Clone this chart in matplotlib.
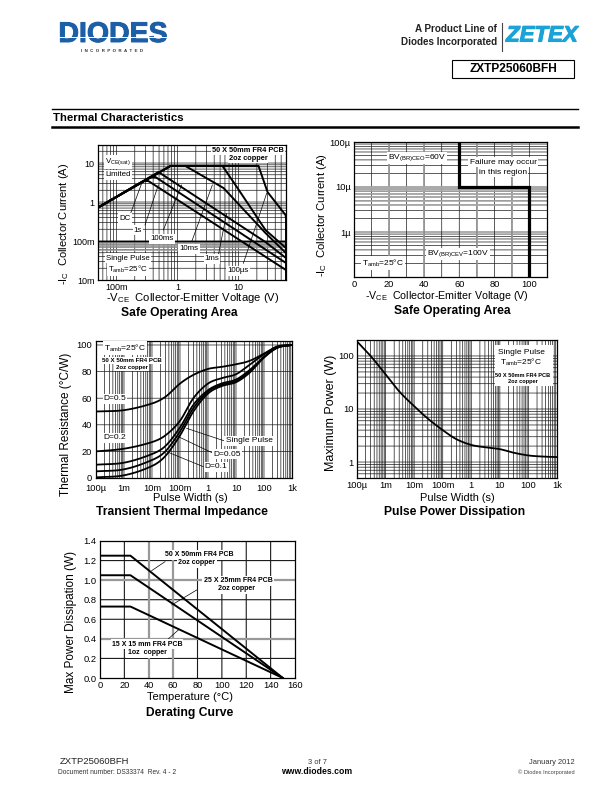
import numpy as np
import matplotlib
matplotlib.use("Agg")
import matplotlib.pyplot as plt
import matplotlib.patheffects as pe
from matplotlib.lines import Line2D
from matplotlib.patches import Rectangle

plt.rcParams['font.family'] = ['Liberation Sans', 'DejaVu Sans']
plt.rcParams['mathtext.fontset'] = 'custom'
plt.rcParams['mathtext.rm'] = 'Liberation Sans'
plt.rcParams['mathtext.default'] = 'regular'

W, H = 612, 792

# ---------- data ----------
soa_dc_v = [0.05, 0.277, 0.335, 60]
soa_dc_i = [0.72, 3.45, 3.45, 0.018]
soa_1s_v = [0.05, 0.361, 0.436, 60]
soa_1s_i = [0.72, 4.38, 4.38, 0.0273]
soa_100ms_v = [0.05, 0.489, 27.7, 60]
soa_100ms_i = [0.72, 5.88, 0.094, 0.0366]
soa_10ms_v = [0.05, 0.768, 1.35, 5.68, 27.7, 60]
soa_10ms_i = [0.72, 8.4, 8.4, 2.29, 0.16, 0.049]
soa_1ms_v = [0.05, 0.768, 5.47, 9.63, 27.7, 60]
soa_1ms_i = [0.72, 8.4, 8.4, 2.29, 0.191, 0.066]
soa_100us_v = [0.05, 0.768, 21.3, 29.9, 59, 60, 60]
soa_100us_i = [0.72, 8.4, 8.4, 1.8, 0.464, 0.389, 0.01]

bv_v = [60, 60, 100, 100]
bv_i = [1e-4, 1e-5, 1e-5, 1e-7]

tp = [1e-4, 1e-3, 1e-2, 3e-2, 1e-1, 3e-1, 1, 3, 10, 30, 100, 300, 1000]
r_d05 = [50, 51, 56, 61, 71, 77.5, 82, 83.5, 85.5, 88, 93.5, 99, 100]
r_d02 = [20, 22, 27, 32, 43, 60, 71, 75, 78, 85, 93, 98.5, 100]
r_d01 = [10, 11.5, 18, 24, 38, 55, 66, 71, 74, 81, 91, 98, 100]
r_d005 = [5, 6.5, 13.5, 20, 35, 52.5, 65, 70, 73, 80, 91, 98, 100]
r_single = [0.5, 2, 9, 16.5, 32, 50, 63.5, 69, 72, 79, 90.5, 98, 100]

pw_t = [1e-4, 3e-4, 1e-3, 3e-3, 1e-2, 3e-2, 1e-1, 3e-1, 1, 3, 10, 30, 100, 300, 1000]
pw_p = [188, 100, 45, 21.5, 11.3, 6.6, 4.0, 2.7, 2.1, 1.9, 1.75, 1.5, 1.33, 1.27, 1.24]

temp = [0, 25, 150]
pd_50 = [1.25, 1.25, 0]
pd_25 = [1.05, 1.05, 0]
pd_15 = [0.73, 0.73, 0]

fig = plt.figure(figsize=(W / 100, H / 100), dpi=100)


def T(x, y, s, size=6, ha='center', va='center', weight='normal', color='k', box=False, **kw):
    bb = dict(fc='white', ec='none', pad=0.8) if box else None
    return fig.text(x / W, 1 - y / H, s, fontsize=size, ha=ha, va=va, fontweight=weight,
                    color=color, bbox=bb, zorder=10, **kw)


def L(x, y, lw=0.6, color='k', z=8):
    fig.add_artist(Line2D(np.array(x) / W, 1 - np.array(y) / H, lw=lw, color=color, zorder=z))


def mkax(l, r, t, b, tick=6.7):
    ax = fig.add_axes([l / W, 1 - b / H, (r - l) / W, (b - t) / H])
    ax.tick_params(which='both', length=0, labelsize=tick, pad=2.5)
    for s in ax.spines.values():
        s.set_linewidth(0.9)
    ax.set_axisbelow(True)
    return ax


def grid(ax, xs, ys, lw=0.5, color='#1a1a1a'):
    for v in xs:
        ax.axvline(v, lw=lw, color=color, snap=False, zorder=1)
    for v in ys:
        ax.axhline(v, lw=lw, color=color, snap=False, zorder=1)


def logs(a, b):
    out = []
    for e in range(a, b):
        out += [m * 10.0 ** e for m in range(1, 10)]
    return out


def smooth(x, y, logy=False, n=12):
    lx = np.log10(x)
    v = np.log10(y) if logy else np.asarray(y, float)
    px = np.r_[2 * lx[0] - lx[1], lx, 2 * lx[-1] - lx[-2]]
    pv = np.r_[2 * v[0] - v[1], v, 2 * v[-1] - v[-2]]
    xs, vs = [], []
    for i in range(1, len(px) - 2):
        h = px[i + 1] - px[i]
        m0 = (pv[i + 1] - pv[i - 1]) / (px[i + 1] - px[i - 1])
        m1 = (pv[i + 2] - pv[i]) / (px[i + 2] - px[i])
        t = np.linspace(0, 1, n, endpoint=False)
        xs.append(px[i] + h * t)
        vs.append((2 * t**3 - 3 * t**2 + 1) * pv[i] + (t**3 - 2 * t**2 + t) * h * m0
                  + (-2 * t**3 + 3 * t**2) * pv[i + 1] + (t**3 - t**2) * h * m1)
    xs = 10 ** np.r_[np.concatenate(xs), lx[-1]]
    vs = np.r_[np.concatenate(vs), v[-1]]
    return xs, (10 ** vs if logy else vs)


LBL = 8.0
TTL = 8.7
SM = 6.0
TINY = 4.4

# ---------- page furniture ----------
t = T(113, 35, 'DIODES', size=20.5, weight='bold', color='#1c5fa6')
t.set_path_effects([pe.withStroke(linewidth=0.7, foreground='#1c5fa6')])
L([57, 168], [36.5, 36.5], lw=0.7, color='white', z=12)
T(112, 51, 'I  N  C  O  R  P  O  R  A  T  E  D', size=3.2, weight='bold', color='#333333')
T(497, 29, 'A Product Line of', size=7.1, ha='right', weight='bold', color='#222222')
T(497, 42, 'Diodes Incorporated', size=7.1, ha='right', weight='bold', color='#222222')
L([502, 502], [23, 51], lw=0.8, color='#444444')
t = T(542, 36, 'ZETEX', size=16, weight='bold', style='italic', color='#1ba2d6')
t.set_path_effects([pe.withStroke(linewidth=0.8, foreground='#1ba2d6')])
fig.add_artist(Rectangle((452 / W, 1 - 78 / H), 122 / W, 18 / H, fill=False, ec='k', lw=0.8,
                         transform=fig.transFigure))
T(513, 69.5, 'ZXTP25060BFH', size=8.6, weight='bold')
L([52, 578], [109, 109], lw=1.0)
L([52, 578], [127, 127], lw=1.8)
T(53, 118, 'Thermal Characteristics', size=8.2, weight='bold', ha='left')

T(60, 762, 'ZXTP25060BFH', size=6.8, ha='left', color='#222222')
T(58, 772.5, 'Document number: DS33374  Rev. 4 - 2', size=4.8, ha='left', color='#333333')
T(317, 762, '3 of 7', size=5.4, color='#333333')
T(317, 772, 'www.diodes.com', size=6.2, weight='bold')
T(575, 762, 'January 2012', size=5.4, ha='right', color='#333333')
T(575, 772, '© Diodes Incorporated', size=4.1, ha='right', color='#444444')

# ---------- SOA 1 ----------
ax = mkax(98, 286, 145, 280, tick=6.5)
ax.set_xscale('log'); ax.set_yscale('log')
ax.set_xlim(0.05, 60); ax.set_ylim(0.01, 29)
grid(ax, [v for v in logs(-2, 2) if 0.05 < v < 60], [v for v in logs(-2, 2) if 0.01 < v < 29])
for v in [0.06, 0.07, 0.08, 0.09]:
    ax.axhline(v, lw=1.1, color='#999999', zorder=1.1)
ax.axhline(0.1, lw=1.0, color='k', zorder=1.2)
for xs, ys in [(soa_dc_v, soa_dc_i), (soa_1s_v, soa_1s_i), (soa_100ms_v, soa_100ms_i),
               (soa_10ms_v, soa_10ms_i), (soa_1ms_v, soa_1ms_i), (soa_100us_v, soa_100us_i)]:
    ax.plot(xs, ys, color='k', lw=1.4, solid_joinstyle='miter', zorder=3, clip_on=True)
ax.set_xticks([0.1, 1, 10], ['100m', '1', '10'])
ax.set_yticks([0.01, 0.1, 1, 10], ['10m', '100m', '1', '10'])
ax.minorticks_off()
for a, b in [((240, 255), (275, 160)), ((285, 285), (325, 165)), ((340, 300), (395, 165)),
             ((425, 335), (487, 165)), ((505, 375), (530, 250)), ((580, 400), (650, 190))]:
    L([50 + a[0] / 3, 50 + b[0] / 3], [130 + a[1] / 3, 130 + b[1] / 3], lw=0.5, z=4)
T(248, 150.5, '50 X 50mm FR4 PCB', size=5.3, weight='bold', box=True)
T(248, 158, '2oz copper', size=5.3, weight='bold', box=True)
T(118, 162, r'V$_{CE(sat)}$', size=5.7, box=True)
T(118, 175, 'Limited', size=5.7, box=True)
T(125, 218, 'DC', size=5.7, box=True)
T(138, 230, '1s', size=5.7, box=True)
T(162, 239, '100ms', size=5.7, box=True)
T(189, 249, '10ms', size=5.7, box=True)
T(212, 259, '1ms', size=5.7, box=True)
T(238, 271, '100µs', size=5.7, box=True)
T(128, 258, 'Single Pulse', size=5.7, box=True)
T(128, 269, r'T$_{amb}$=25°C', size=5.7, box=True)
T(64, 224, r'-I$_{C}$  Collector Current (A)', size=LBL, rotation=90)
T(193, 298, r'-V$_{CE}$  Collector-Emitter Voltage (V)', size=8.1)
T(179, 313, 'Safe Operating Area', size=TTL, weight='bold')

# ---------- SOA 2 ----------
ax = mkax(354, 547, 142, 277)
ax.set_yscale('log')
ax.set_xlim(0, 110); ax.set_ylim(1e-7, 1e-4)
grid(ax, range(10, 110, 10), [v for v in logs(-7, -4) if 1e-7 < v < 1e-4])
for v in [20, 40, 70, 90]:
    ax.axvline(v, lw=1.2, color='#999999', zorder=1.1)
for v in [4e-6, 5e-6, 6e-6, 7e-6, 8e-6, 9e-6, 1e-5]:
    ax.axhline(v, lw=1.2 if v < 1e-5 else 1.8, color='#aaaaaa', zorder=1.1)
ax.plot(bv_v, bv_i, color='k', lw=2.3, solid_joinstyle='miter', zorder=3)
ax.set_xticks(range(0, 120, 20))
ax.set_yticks([1e-6, 1e-5, 1e-4], ['1µ', '10µ', '100µ'])
ax.minorticks_off()
T(417, 158, r'BV$_{(BR)CEO}$=60V', size=SM, box=True)
T(503, 162, 'Failure may occur', size=SM, box=True)
T(503, 172, 'in this region', size=SM, box=True)
T(458, 254, r'BV$_{(BR)CEV}$=100V', size=SM, box=True)
T(383, 263, r'T$_{amb}$=25°C', size=SM, box=True)
T(322, 215, r'-I$_{C}$  Collector Current (A)', size=8.1, rotation=90)
T(447, 296, r'-V$_{CE}$  Collector-Emitter Voltage (V)', size=7.7)
T(452, 311, 'Safe Operating Area', size=TTL, weight='bold')

# ---------- Transient thermal impedance ----------
ax = mkax(96, 292, 341, 478)
ax.set_xscale('log')
ax.set_xlim(1e-4, 1e3); ax.set_ylim(0, 103)
grid(ax, [v for v in logs(-4, 3) if v > 1e-4], [20, 40, 60, 80, 100])
for rv in [r_d05, r_d02, r_d01, r_d005, r_single]:
    ax.plot(*smooth(tp, rv), color='k', lw=1.3, zorder=3)
ax.set_xticks([1e-4, 1e-3, 1e-2, 1e-1, 1, 10, 100, 1000],
              ['100µ', '1m', '10m', '100m', '1', '10', '100', '1k'])
ax.set_yticks(range(0, 120, 20))
ax.tick_params(axis='x', pad=4)
ax.tick_params(axis='y', pad=3)
ax.minorticks_off()
for a, b in [((410, 295), (530, 335)), ((385, 320), (490, 370)), ((350, 365), (460, 410))]:
    L([50 + a[0] / 3, 50 + b[0] / 3], [330 + a[1] / 3, 330 + b[1] / 3], lw=0.5, z=4)
T(125, 348, r'T$_{amb}$=25°C', size=SM, box=True)
T(132, 360.5, '50 X 50mm FR4 PCB', size=TINY, weight='bold', box=True)
T(132, 367, '2oz copper', size=TINY, weight='bold', box=True)
T(115, 399, 'D=0.5', size=SM, box=True)
T(115, 438, 'D=0.2', size=SM, box=True)
T(249, 441, 'Single Pulse', size=SM, box=True)
T(227, 454, 'D=0.05', size=SM, box=True)
T(216, 467, 'D=0.1', size=SM, box=True)
T(66, 424, 'Thermal Resistance (°C/W)', size=8.5, rotation=90)
T(190, 498, 'Pulse Width (s)', size=7.9)
T(182, 512, 'Transient Thermal Impedance', size=TTL, weight='bold')

# ---------- Pulse power ----------
ax = mkax(357, 557, 340, 478)
ax.set_xscale('log'); ax.set_yscale('log')
ax.set_xlim(1e-4, 1e3); ax.set_ylim(0.5, 200)
grid(ax, [v for v in logs(-4, 3) if v > 1e-4], [v for v in logs(-1, 3) if 0.5 < v < 200])
ax.plot(*smooth(pw_t, pw_p, logy=True), color='k', lw=1.3, zorder=3)
ax.set_xticks([1e-4, 1e-3, 1e-2, 1e-1, 1, 10, 100, 1000],
              ['100µ', '1m', '10m', '100m', '1', '10', '100', '1k'])
ax.set_yticks([1, 10, 100], ['1', '10', '100'])
ax.minorticks_off()
fig.add_artist(Rectangle((495 / W, 1 - 386 / H), 58 / W, 41 / H, fc='white', ec='none', zorder=5,
                         transform=fig.transFigure))
T(521, 352, 'Single Pulse', size=SM)
T(521, 362, r'T$_{amb}$=25°C', size=SM)
T(523, 376, '50 X 50mm FR4 PCB', size=4.1, weight='bold')
T(523, 382, '2oz copper', size=4.1, weight='bold')
T(331, 413, 'Maximum Power (W)', size=9.0, rotation=90)
T(457, 498, 'Pulse Width (s)', size=7.9)
T(455, 512, 'Pulse Power Dissipation', size=TTL, weight='bold')

# ---------- Derating ----------
ax = mkax(100, 295, 541, 678)
ax.set_xlim(0, 160); ax.set_ylim(0, 1.4)
grid(ax, range(20, 160, 20), np.arange(0.2, 1.4, 0.2), lw=0.8)
for v in [40, 60]:
    ax.axvline(v, lw=1.6, color='#999999', zorder=1.1)
for v in [0.4, 1.0]:
    ax.axhline(v, lw=1.6, color='#999999', zorder=1.1)
for pv in [pd_50, pd_25, pd_15]:
    ax.plot(temp, pv, color='k', lw=1.4, zorder=3)
ax.set_xticks(range(0, 180, 20))
ax.set_yticks(np.arange(0, 1.6, 0.2), [f'{v:.1f}' for v in np.arange(0, 1.6, 0.2)])
for a, b in [((305, 137), (345, 110)), ((365, 240), (440, 195)), ((340, 355), (385, 315))]:
    L([50 + a[0] / 3, 50 + b[0] / 3], [525 + a[1] / 3, 525 + b[1] / 3], lw=0.5, z=4)
T(199, 555, '50 X 50mm FR4 PCB', size=5, weight='bold', box=True)
T(197, 563, '2oz copper', size=5, weight='bold', box=True)
T(238, 581, '25 X 25mm FR4 PCB', size=5, weight='bold', box=True)
T(236, 589, '2oz copper', size=5, weight='bold', box=True)
T(147, 644, '15 X 15 mm FR4 PCB', size=5, weight='bold', box=True)
T(147, 653, '1oz  copper', size=5, weight='bold', box=True)
T(71, 622, 'Max Power Dissipation (W)', size=8.5, rotation=90)
T(190, 697, 'Temperature (°C)', size=8.0)
T(190, 713, 'Derating Curve', size=TTL, weight='bold')

fig.savefig('out.png', dpi=100)
